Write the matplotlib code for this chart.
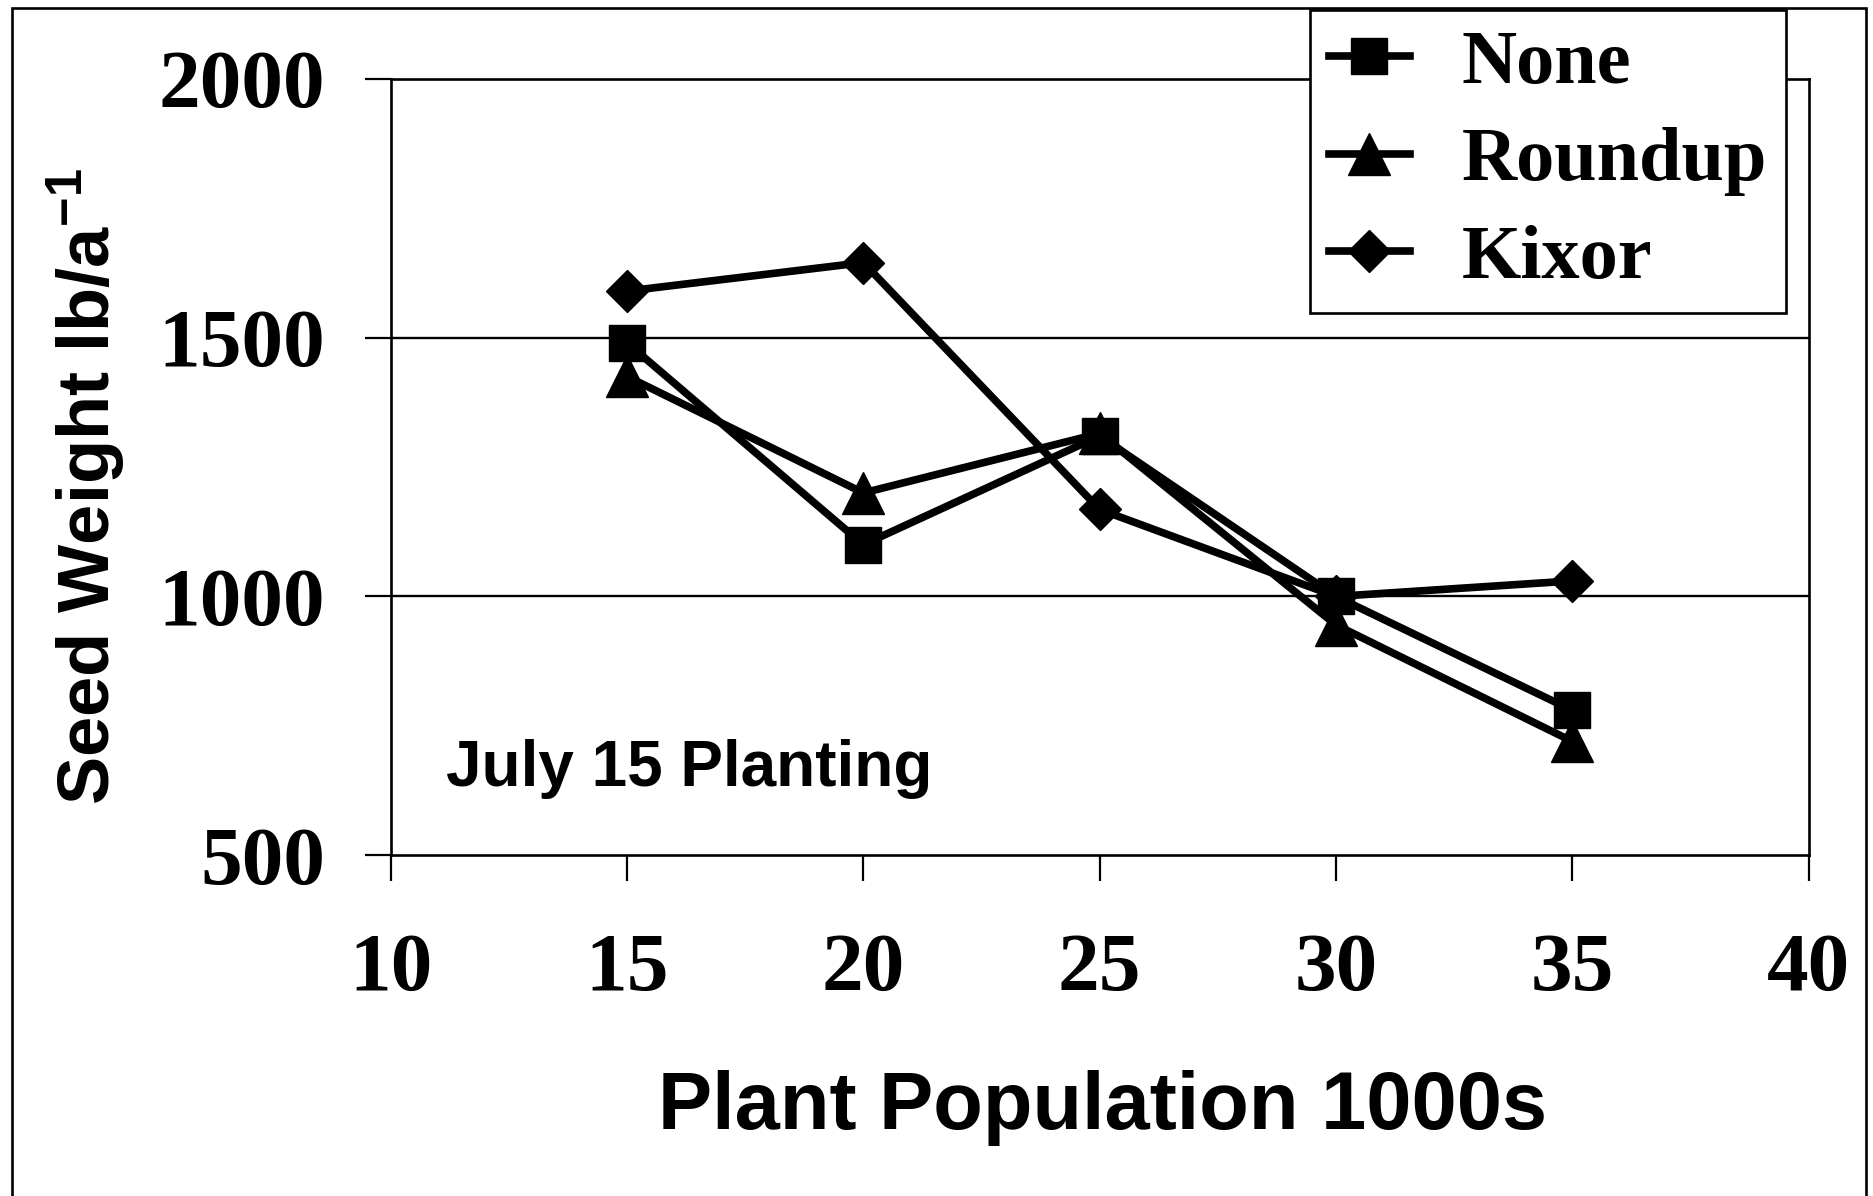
import matplotlib
matplotlib.use("Agg")
import matplotlib.pyplot as plt
from matplotlib.patches import Rectangle

population = [15, 20, 25, 30, 35]
none_wt = [1490, 1100, 1310, 1000, 780]
roundup_wt = [1425, 1200, 1315, 945, 720]
kixor_wt = [1590, 1645, 1168, 1000, 1030]
series_names = ["None", "Roundup", "Kixor"]
x_ticks = [10, 15, 20, 25, 30, 35, 40]
y_ticks = [500, 1000, 1500, 2000]

plt.rcParams['mathtext.fontset'] = 'custom'
plt.rcParams['mathtext.rm'] = 'Liberation Sans'
plt.rcParams['mathtext.bf'] = 'Liberation Sans:bold'

serif = "Liberation Serif"
sans = "Liberation Sans"

fig = plt.figure(figsize=(18.73, 11.96), dpi=100)
ax = fig.add_axes([0.2086, 0.2849, 0.757, 0.6492])

lw = 5.5
ax.plot(population, none_wt, color="black", lw=lw, marker="s", ms=26,
        mec="black", mew=1, label=series_names[0])
ax.plot(population, roundup_wt, color="black", lw=lw, marker="^", ms=30,
        mec="black", mew=1, label=series_names[1])
ax.plot(population, kixor_wt, color="black", lw=lw, marker="D", ms=21,
        mec="black", mew=1, label=series_names[2])

ax.set_xlim(10, 40)
ax.set_ylim(500, 2000)
ax.set_xticks(x_ticks)
ax.set_yticks(y_ticks)
ax.set_xticklabels([str(v) for v in x_ticks], fontfamily=serif,
                   fontweight="bold", fontsize=60)
ax.set_yticklabels([str(v) for v in y_ticks], fontfamily=serif,
                   fontweight="bold", fontsize=60)
ax.tick_params(axis="both", direction="out", length=19, width=1.6)
ax.tick_params(axis="x", pad=37)
ax.tick_params(axis="y", pad=28)

for g in [1000, 1500]:
    ax.axhline(g, color="black", lw=1.7, zorder=0)
for s in ax.spines.values():
    s.set_linewidth(1.9)

ax.text(11.16, 633, "July 15 Planting", fontfamily=sans, fontweight="bold",
        fontsize=46, ha="left", va="baseline")

fig.text(0.5884, 0.056, "Plant Population 1000s", fontfamily=sans,
         fontweight="bold", fontsize=58.5, ha="center", va="baseline")
fig.text(86 / 1873, 1 - 487 / 1196, r"Seed Weight lb/a$^{\mathbf{-1}}$",
         fontfamily=sans, fontweight="bold", fontsize=52, rotation=90,
         ha="center", va="center")

leg = ax.legend(loc="upper right", bbox_to_anchor=(1786 / 1873, 1 - 10 / 1196),
                bbox_transform=fig.transFigure, borderaxespad=0,
                prop={"family": serif, "weight": "bold", "size": 55},
                fancybox=False, framealpha=1, edgecolor="black",
                handlelength=1.05, handletextpad=0.68, labelspacing=0.37,
                borderpad=0.25)
leg.get_frame().set_linewidth(1.9)

fig.patches.append(Rectangle((12 / 1873, -0.05), (1866 - 12) / 1873,
                             1.05 - 8 / 1196, transform=fig.transFigure,
                             fill=False, edgecolor="black", lw=1.9))

fig.savefig("out.png", dpi=100)
